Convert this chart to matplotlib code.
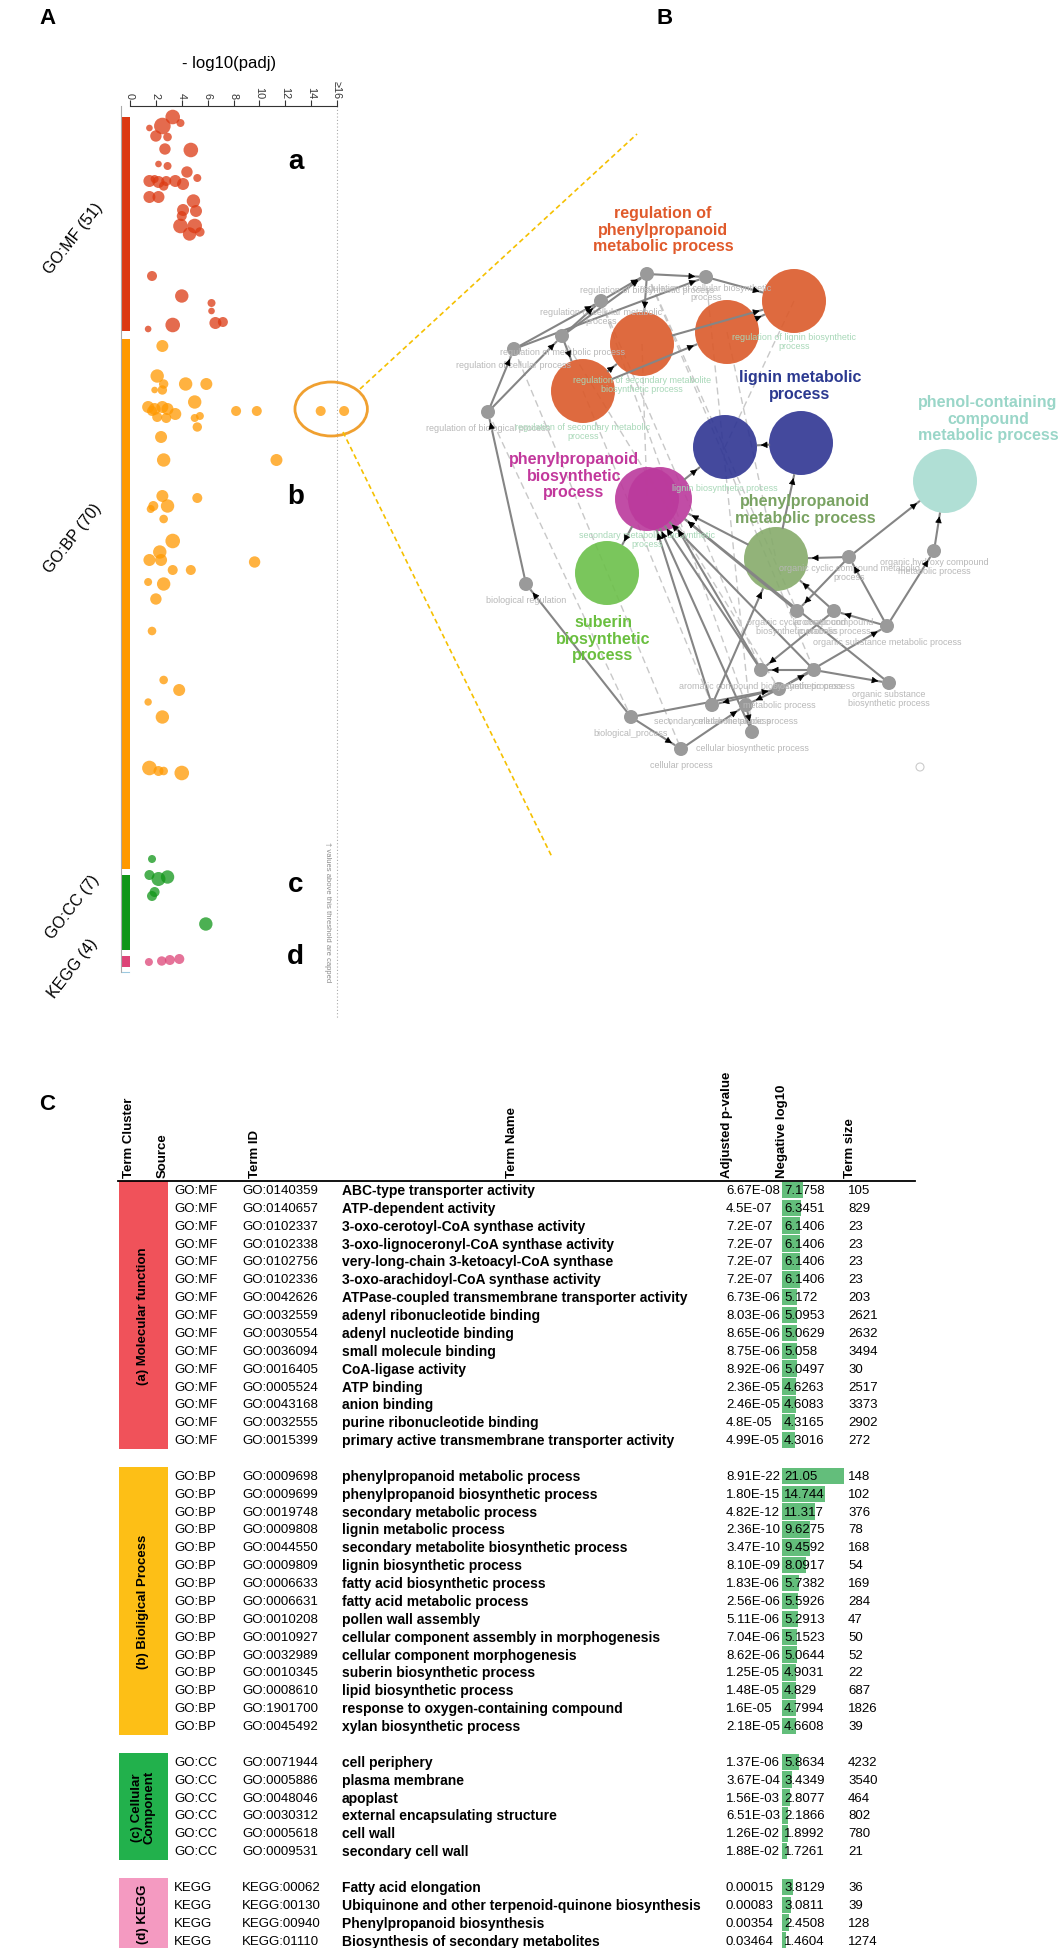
import numpy as np
import matplotlib
matplotlib.use("Agg")
import matplotlib.pyplot as plt
from matplotlib.patches import Circle, Ellipse, Rectangle

plt.rcParams['font.family'] = ['Liberation Sans', 'DejaVu Sans']

W, H = 1063, 1949
fig = plt.figure(figsize=(W / 100, H / 100), dpi=100)

# ---------------- panel A data (term position along the axis, -log10(padj), dot radius)
mf_pos = [11, 17, 20, 22, 30, 31, 43, 44, 58, 60, 66, 72, 75, 76, 75, 75, 78, 80, 73, 91, 91, 95,
          104, 105, 110, 120, 120, 128, 126, 170, 190, 197, 205, 217, 216, 219, 223]
mf_val = [3.3, 3.9, 2.5, 1.5, 2.0, 2.9, 2.7, 4.7, 2.2, 2.9, 4.4, 5.2, 1.5, 2.2, 2.8, 3.5, 4.1, 2.6,
          1.9, 1.5, 2.2, 4.9, 4.1, 5.1, 4.0, 3.9, 5.0, 4.6, 5.4, 1.7, 4.0, 6.3, 6.3, 6.6, 7.18, 3.3, 1.4]
mf_rad = [7.3, 4, 8.3, 3.3, 5.7, 4.3, 5.7, 7.3, 3.3, 4, 5.7, 4, 6, 6, 5, 6, 6, 4.7, 4, 6, 6, 6.7,
          6, 6, 5, 7.3, 7.3, 6.7, 4.7, 5, 6.7, 4, 3.3, 6, 5, 7.3, 3.3]

bp_pos = [240, 270, 278, 284, 284, 278, 278, 301, 303, 301, 303, 308, 311, 312, 305, 296, 312, 310,
          321, 305, 305, 305, 305, 331, 354, 354, 390, 392, 400, 403, 400, 413, 435, 446, 454, 454,
          456, 464, 464, 476, 478, 493, 525, 574, 584, 596, 611, 662, 665, 665, 667]
bp_val = [2.5, 2.1, 2.6, 1.9, 2.5, 4.3, 5.9, 1.4, 1.9, 2.5, 2.9, 3.5, 2.1, 2.8, 1.7, 5.0, 5.0, 5.4,
          5.2, 8.2, 9.8, 14.74, 21.05, 2.4, 2.6, 11.32, 2.5, 5.2, 1.8, 1.6, 2.9, 2.6, 3.3, 2.3, 1.5, 2.4,
          9.63, 3.3, 4.7, 1.4, 2.6, 2.0, 1.7, 2.6, 3.8, 1.4, 2.5, 1.5, 2.2, 2.6, 4.0]
bp_rad = [6, 6.7, 4.7, 3.3, 4.7, 6.7, 6, 6, 6, 6, 6, 6, 5, 5, 5, 6.7, 4, 4, 4.7, 5, 5, 5, 5, 6,
          6.7, 6, 6, 5, 5, 4, 6.7, 4.3, 7.3, 6.7, 6, 6, 5.7, 5, 5, 4, 6.7, 5.7, 4.3, 4.3, 6, 3.7,
          6.7, 7.3, 5, 4.3, 7.3]

cc_pos = [753, 769, 773, 771, 786, 790, 818]
cc_val = [1.7, 1.5, 2.2, 2.9, 1.9, 1.7, 5.86]
cc_rad = [4, 5, 7, 6.7, 5, 5, 6.7]

kegg_pos = [856, 855, 854, 853]
kegg_val = [1.46, 2.45, 3.08, 3.81]
kegg_rad = [4, 4.7, 5, 5]

# extent of each source along the term axis, and where its name sits
src_names = ['GO:MF (51)', 'GO:BP (70)', 'GO:CC (7)', 'KEGG (4)']
src_span = [(11, 225), (233, 763), (769, 844), (850, 861)]
src_label_pos = [132, 432, 800, 862]
src_color = ['#dc3912', '#ff9900', '#109618', '#dd4477']
ticks = [0, 2, 4, 6, 8, 10, 12, 14, 16]
tick_labels = ['0', '2', '4', '6', '8', '10', '12', '14', '\u226516']
cap = 16.55   # where capped values are drawn

# ---------------- panel A
axA = fig.add_axes([122 / W, 1 - 975 / H, (337 - 122) / W, (975 - 107) / H])
axA.set_xlim(-0.62, 16)
axA.set_ylim(868, 0)
for spine in ['left', 'right', 'bottom']:
    axA.spines[spine].set_visible(False)
axA.spines['top'].set_bounds(0, 16)
axA.spines['top'].set_color('#333333')
axA.xaxis.tick_top()
axA.set_xticks(ticks)
axA.set_xticklabels(tick_labels, rotation=-90, fontsize=7.8)
axA.tick_params(axis='x', length=4, width=0.8, pad=2, colors='#333333')
axA.set_yticks([])
axA.set_xlabel('- log10(padj)', fontsize=12, labelpad=9)
axA.xaxis.set_label_position('top')
axA.patch.set_alpha(0)

groups = [(mf_pos, mf_val, mf_rad), (bp_pos, bp_val, bp_rad), (cc_pos, cc_val, cc_rad),
          (kegg_pos, kegg_val, kegg_rad)]
for (pos, val, rad), col in zip(groups, src_color):
    s = (2 * np.array(rad) * 0.72) ** 2
    axA.scatter(np.minimum(val, cap), pos, s=s, color=col, alpha=0.75, linewidths=0, zorder=3,
                clip_on=False)

for (a, b), col, name, lp in zip(src_span, src_color, src_names, src_label_pos):
    axA.add_patch(Rectangle((-0.62, a), 0.62, b - a, color=col, lw=0, zorder=2))
    axA.text(-4.4, lp, name, rotation=52, ha='center', va='center', fontsize=11.5,
             clip_on=False)
axA.plot([-0.68, -0.68], [0, 866], color='#aaaaaa', lw=0.8, clip_on=False)
axA.plot([-0.62, -0.1], [866, 866], color='#9cc9e0', lw=0.8, clip_on=False)
axA.plot([16, 16], [0, 912], color='#aaaaaa', lw=0.8, ls=(0, (1, 2)), clip_on=False)
axA.text(15.3, 805, '\u2020 values above this threshold are capped', rotation=-90, fontsize=5.5,
         color='#8a8a8a', ha='center', va='center', clip_on=False)

for lab, yy in zip(['a', 'b', 'c', 'd'], [55, 390, 778, 850]):
    axA.text(12.8, yy, lab, fontsize=20, fontweight='bold', ha='center', va='center')

axA.add_patch(Ellipse((15.55, 303), 5.6, 54, fill=False, ec='#f0a030', lw=2, zorder=4,
                      clip_on=False))

# ---------------- overlay axes in figure pixels (panel letters, zoom lines, network)
ov = fig.add_axes([0, 0, 1, 1])
ov.set_xlim(0, W)
ov.set_ylim(H, 0)
ov.axis('off')

ov.text(47, 18, 'A', fontsize=16, fontweight='bold', ha='center', va='center')
ov.text(665, 18, 'B', fontsize=16, fontweight='bold', ha='center', va='center')
ov.text(47, 1105, 'C', fontsize=16, fontweight='bold', ha='center', va='center')

ov.plot([360, 637], [390, 135], color='#f5c000', lw=1.2, ls=(0, (3, 2)))
ov.plot([343, 552], [433, 858], color='#f5c000', lw=1.2, ls=(0, (3, 2)))

# ---------------- panel B: GO graph
GRAY = '#9a9a9a'
node_name = ['regulation of biological process', 'regulation of cellular process',
             'regulation of metabolic process', 'regulation of cellular metabolic\nprocess',
             'regulation of biosynthetic process', 'regulation of cellular biosynthetic\nprocess',
             'regulation of secondary metabolic\nprocess',
             'regulation of secondary metabolite\nbiosynthetic process', '',
             'regulation of lignin biosynthetic\nprocess', 'lignin biosynthetic process', '',
             'secondary metabolite biosynthetic\nprocess', '', '', 'biological regulation', '', '',
             'organic cyclic compound metabolic\nprocess', 'organic hydroxy compound\nmetabolic process',
             'organic cyclic compound\nbiosynthetic process', 'aromatic compound\nmetabolic process',
             'organic substance metabolic process', 'aromatic compound biosynthetic process',
             'biosynthetic process', 'metabolic process', 'secondary metabolic process',
             'cellular metabolic process', 'cellular biosynthetic process', 'organic substance\nbiosynthetic process',
             'biological_process', 'cellular process']
node_x = [488, 514, 562, 601, 647, 706, 583, 642, 727, 794, 725, 801, 647, 660, 607, 526, 776, 945,
          849, 934, 797, 834, 887, 761, 814, 779, 712, 746, 752, 889, 631, 681]
node_y = [413, 350, 337, 302, 275, 278, 392, 345, 333, 302, 448, 444, 500, 500, 574, 585, 560, 482,
          558, 552, 612, 612, 627, 671, 671, 690, 706, 706, 733, 684, 718, 750]
node_r = [7, 7, 7, 7, 7, 7, 32, 32, 32, 32, 32, 32, 32, 32, 32, 7, 32, 32,
          7, 7, 7, 7, 7, 7, 7, 7, 7, 7, 7, 7, 7, 7]
node_col = [GRAY] * 6 + ['#db5a2a'] * 4 + ['#2f3593'] * 2 + ['#bb3a9c', '#bb3a9c', '#6cc04a', GRAY,
            '#86ab6b', '#a8dcd1'] + [GRAY] * 14
label_green = {6, 7, 9, 10, 12}

edges = [(30, 15), (15, 0), (0, 1), (0, 2), (1, 3), (2, 3), (2, 4), (3, 4), (1, 5), (4, 5),
         (2, 6), (6, 7), (4, 7), (6, 8), (7, 9), (8, 9), (5, 9), (30, 31), (30, 25), (25, 26),
         (25, 27), (31, 27), (27, 28), (25, 24), (24, 12), (26, 12), (26, 16), (16, 13), (16, 11),
         (11, 10), (13, 10), (12, 14), (28, 12), (18, 16), (18, 17), (19, 17), (22, 18), (22, 19),
         (20, 13), (23, 13), (21, 16), (22, 21), (24, 23), (29, 13), (25, 22), (24, 29), (18, 20),
         (23, 12), (21, 23)]
reg_edges = [(0, 30), (1, 31), (2, 25), (3, 27), (4, 24), (5, 28), (6, 26), (7, 12), (8, 16),
             (9, 10), (3, 23), (4, 20)]

big_labels = ['regulation of\nphenylpropanoid\nmetabolic process', 'lignin metabolic\nprocess',
              'phenol-containing\ncompound\nmetabolic process', 'phenylpropanoid\nbiosynthetic\nprocess',
              'phenylpropanoid\nmetabolic process', 'suberin\nbiosynthetic\nprocess']
big_x = [663, 800, 988, 574, 805, 603]
big_y = [230, 386, 419, 476, 510, 639]
big_col = ['#e05a2b', '#2b3990', '#9ad6c8', '#c2389c', '#7aa363', '#6abf3f']

for a, b in reg_edges:
    ov.plot([node_x[a], node_x[b]], [node_y[a], node_y[b]], color='#c8c8c8', lw=1,
            ls=(0, (5, 3)), zorder=1)

for i in range(len(node_x)):
    big = node_r[i] > 10
    ov.add_patch(Circle((node_x[i], node_y[i]), node_r[i], color=node_col[i],
                        alpha=0.9 if big else 1.0, lw=0, zorder=3 if big else 5))
    if node_name[i]:
        ov.text(node_x[i], node_y[i] + node_r[i] + 8, node_name[i], fontsize=6.5,
                color='#a8d8b8' if i in label_green else '#b8b8b8', ha='center', va='center',
                linespacing=1.1, zorder=6)

for a, b in edges:
    p = np.array([node_x[a], node_y[a]], float)
    q = np.array([node_x[b], node_y[b]], float)
    u = (q - p) / np.linalg.norm(q - p)
    s0 = p + u * node_r[a]
    s1 = q - u * (node_r[b] + 1)
    ov.plot([s0[0], s1[0]], [s0[1], s1[1]], color='#858585', lw=1.5, zorder=4)
    ov.annotate('', xy=s1, xytext=s1 - u * 10,
                arrowprops=dict(arrowstyle='-|>', color='black', lw=0.5, mutation_scale=10),
                zorder=7)

ov.add_patch(Circle((920, 768), 4, fill=False, ec='#cccccc', lw=0.8))

for t, x, y, c in zip(big_labels, big_x, big_y, big_col):
    ov.text(x, y, t, fontsize=11.5, fontweight='bold', color=c, ha='center', va='center',
            linespacing=1.15, zorder=8)

# ---------------- panel C: table
mf_ids = ['GO:0140359', 'GO:0140657', 'GO:0102337', 'GO:0102338', 'GO:0102756', 'GO:0102336',
          'GO:0042626', 'GO:0032559', 'GO:0030554', 'GO:0036094', 'GO:0016405', 'GO:0005524',
          'GO:0043168', 'GO:0032555', 'GO:0015399']
mf_names = ['ABC-type transporter activity', 'ATP-dependent activity',
            '3-oxo-cerotoyl-CoA synthase activity', '3-oxo-lignoceronyl-CoA synthase activity',
            'very-long-chain 3-ketoacyl-CoA synthase', '3-oxo-arachidoyl-CoA synthase activity',
            'ATPase-coupled transmembrane transporter activity', 'adenyl ribonucleotide binding',
            'adenyl nucleotide binding', 'small molecule binding', 'CoA-ligase activity',
            'ATP binding', 'anion binding', 'purine ribonucleotide binding',
            'primary active transmembrane transporter activity']
mf_padj = ['6.67E-08', '4.5E-07', '7.2E-07', '7.2E-07', '7.2E-07', '7.2E-07', '6.73E-06',
           '8.03E-06', '8.65E-06', '8.75E-06', '8.92E-06', '2.36E-05', '2.46E-05', '4.8E-05',
           '4.99E-05']
mf_neg = [7.1758, 6.3451, 6.1406, 6.1406, 6.1406, 6.1406, 5.172, 5.0953, 5.0629, 5.058, 5.0497,
          4.6263, 4.6083, 4.3165, 4.3016]
mf_size = [105, 829, 23, 23, 23, 23, 203, 2621, 2632, 3494, 30, 2517, 3373, 2902, 272]

bp_ids = ['GO:0009698', 'GO:0009699', 'GO:0019748', 'GO:0009808', 'GO:0044550', 'GO:0009809',
          'GO:0006633', 'GO:0006631', 'GO:0010208', 'GO:0010927', 'GO:0032989', 'GO:0010345',
          'GO:0008610', 'GO:1901700', 'GO:0045492']
bp_names = ['phenylpropanoid metabolic process', 'phenylpropanoid biosynthetic process',
            'secondary metabolic process', 'lignin metabolic process',
            'secondary metabolite biosynthetic process', 'lignin biosynthetic process',
            'fatty acid biosynthetic process', 'fatty acid metabolic process',
            'pollen wall assembly', 'cellular component assembly in morphogenesis',
            'cellular component morphogenesis', 'suberin biosynthetic process',
            'lipid biosynthetic process', 'response to oxygen-containing compound',
            'xylan biosynthetic process']
bp_padj = ['8.91E-22', '1.80E-15', '4.82E-12', '2.36E-10', '3.47E-10', '8.10E-09', '1.83E-06',
           '2.56E-06', '5.11E-06', '7.04E-06', '8.62E-06', '1.25E-05', '1.48E-05', '1.6E-05',
           '2.18E-05']
bp_neg = [21.05, 14.744, 11.317, 9.6275, 9.4592, 8.0917, 5.7382, 5.5926, 5.2913, 5.1523, 5.0644,
          4.9031, 4.829, 4.7994, 4.6608]
bp_size = [148, 102, 376, 78, 168, 54, 169, 284, 47, 50, 52, 22, 687, 1826, 39]

cc_ids = ['GO:0071944', 'GO:0005886', 'GO:0048046', 'GO:0030312', 'GO:0005618', 'GO:0009531']
cc_names = ['cell periphery', 'plasma membrane', 'apoplast', 'external encapsulating structure',
            'cell wall', 'secondary cell wall']
cc_padj = ['1.37E-06', '3.67E-04', '1.56E-03', '6.51E-03', '1.26E-02', '1.88E-02']
cc_neg = [5.8634, 3.4349, 2.8077, 2.1866, 1.8992, 1.7261]
cc_size = [4232, 3540, 464, 802, 780, 21]

kegg_ids = ['KEGG:00062', 'KEGG:00130', 'KEGG:00940', 'KEGG:01110']
kegg_names = ['Fatty acid elongation', 'Ubiquinone and other terpenoid-quinone biosynthesis',
              'Phenylpropanoid biosynthesis', 'Biosynthesis of secondary metabolites']
kegg_padj = ['0.00015', '0.00083', '0.00354', '0.03464']
kegg_neg = [3.8129, 3.0811, 2.4508, 1.4604]
kegg_size = [36, 39, 128, 1274]

clusters = [('GO:MF', '(a) Molecular function', '#f0525a', mf_ids, mf_names, mf_padj, mf_neg, mf_size),
            ('GO:BP', '(b) Bioligical Process', '#fdbf16', bp_ids, bp_names, bp_padj, bp_neg, bp_size),
            ('GO:CC', '(c) Cellular\nComponent', '#22b14c', cc_ids, cc_names, cc_padj, cc_neg, cc_size),
            ('KEGG', '(d) KEGG', '#f49ac1', kegg_ids, kegg_names, kegg_padj, kegg_neg, kegg_size)]
headers = ['Term Cluster', 'Source', 'Term ID', 'Term Name', 'Adjusted p-value', 'Negative log10',
           'Term size']

row0, step = 1191, 17.87
kmax = (H - row0) / step
bx = fig.add_axes([782 / W, 0, 62 / W, (H - 1182) / H])
bx.set_xlim(0, 21.05)
bx.set_ylim(kmax, -0.5)
bx.axis('off')
bx.set_zorder(2)
tab = fig.add_axes([0, 0, 1, (H - 1182) / H])
tab.set_xlim(0, W)
tab.set_ylim(kmax, -0.5)
tab.axis('off')
tab.set_zorder(3)

FS = 9.5
FB = 10
head_x = [129, 163, 255, 512, 727, 782, 850]
for h, x in zip(headers, head_x):
    tab.text(x, -0.75, h, rotation=90, ha='center', va='bottom', fontsize=FS, fontweight='bold',
             clip_on=False)
tab.plot([118, 915], [-0.5, -0.5], color='black', lw=1.3, clip_on=False)

k = 0
for src, clabel, ccol, ids, names, padj, neg, size in clusters:
    n = len(ids)
    rows = np.arange(k, k + n)
    tab.add_patch(Rectangle((119, k - 0.5), 49, n, color=ccol, lw=0))
    tab.text(143, k + (n - 1) / 2, clabel, rotation=90, ha='center', va='center', fontsize=FS,
             fontweight='bold', linespacing=1.0)
    bx.barh(rows, neg, height=0.92, color='#63be7b', lw=0)
    for r, i_d, nm, p, g, sz in zip(rows, ids, names, padj, neg, size):
        tab.text(174, r, src, va='center', fontsize=FS)
        tab.text(242, r, i_d, va='center', fontsize=FS)
        tab.text(342, r, nm, va='center', fontsize=FB, fontweight='bold')
        tab.text(726, r, p, va='center', fontsize=FS)
        tab.text(784, r, f'{g:g}', va='center', fontsize=FS)
        tab.text(848, r, str(sz), va='center', fontsize=FS)
    k += n + 1

fig.savefig('out.png', dpi=100)
